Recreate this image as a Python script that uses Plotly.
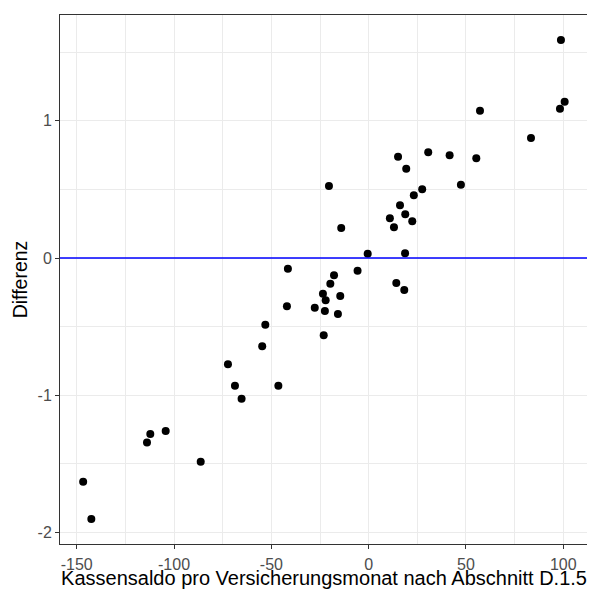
import plotly.graph_objects as go

kassensaldo = [-146.7, -142.5, -113.9, -112.2, -104.3, -86.3, -72.3, -68.7, -65.3, -54.7,
               -53.1, -46.4, -42.0, -41.5, -27.7, -23.1, -23.5, -22.1, -22.5, -20.4,
               -19.7, -17.8, -15.8, -14.6, -14.1, -5.7, -0.5, 10.9, 13.0, 14.2,
               15.1, 16.1, 18.3, 18.7, 18.8, 19.3, 22.4, 23.2, 27.5, 30.6,
               41.6, 47.4, 55.3, 57.2, 83.4, 98.3, 100.7, 98.8]
differenz = [-1.629, -1.901, -1.344, -1.282, -1.260, -1.484, -0.774, -0.930, -1.025, -0.643,
             -0.486, -0.930, -0.352, -0.078, -0.362, -0.563, -0.260, -0.308, -0.386, 0.524,
             -0.187, -0.126, -0.408, -0.277, 0.218, -0.092, 0.031, 0.290, 0.224, -0.182,
             0.738, 0.385, -0.233, 0.035, 0.318, 0.650, 0.267, 0.457, 0.500, 0.770,
             0.748, 0.534, 0.726, 1.073, 0.874, 1.087, 1.138, 1.588]

x_ticks = [-150, -100, -50, 0, 50, 100]
y_ticks = [-2, -1, 0, 1]

fig = go.Figure()
fig.add_trace(go.Scatter(x=kassensaldo, y=differenz, mode="markers",
                         marker=dict(color="black", size=8, line=dict(width=0)),
                         showlegend=False, hoverinfo="x+y"))
fig.add_hline(y=0, line=dict(color="#0000FF", width=1.6))

axis_common = dict(
    showline=True, linecolor="#333333", linewidth=1, mirror=True,
    ticks="outside", ticklen=4, tickcolor="#333333", tickwidth=1,
    showgrid=True, gridcolor="#EBEBEB", gridwidth=1.1,
    zeroline=False, automargin=False,
    tickfont=dict(family="Liberation Sans, Arial, sans-serif", size=16, color="#4D4D4D"),
)

fig.update_layout(
    width=587, height=581, autosize=False,
    margin=dict(l=52, r=7, t=7, b=45),
    paper_bgcolor="white", plot_bgcolor="white",
    font=dict(family="Liberation Sans, Arial, sans-serif"),
    xaxis=dict(**axis_common, range=[-158.6, 112.7], tickvals=x_ticks,
               ticktext=[str(v) for v in x_ticks], ticklabelstandoff=2,
               minor=dict(tickvals=[-125, -75, -25, 25, 75], showgrid=True,
                          gridcolor="#EBEBEB", gridwidth=0.6, ticks=""),
               title=dict(text="Kassensaldo pro Versicherungsmonat nach Abschnitt D.1.5",
                          font=dict(size=20, color="black"), standoff=0)),
    yaxis=dict(**axis_common, range=[-2.083, 1.770], tickvals=y_ticks,
               ticktext=[str(v) for v in y_ticks],
               minor=dict(tickvals=[-1.5, -0.5, 0.5, 1.5], showgrid=True,
                          gridcolor="#EBEBEB", gridwidth=0.6, ticks=""),
               title=dict(text="Differenz", font=dict(size=19.5, color="black"), standoff=4)),
)

fig.write_html("out.html")
